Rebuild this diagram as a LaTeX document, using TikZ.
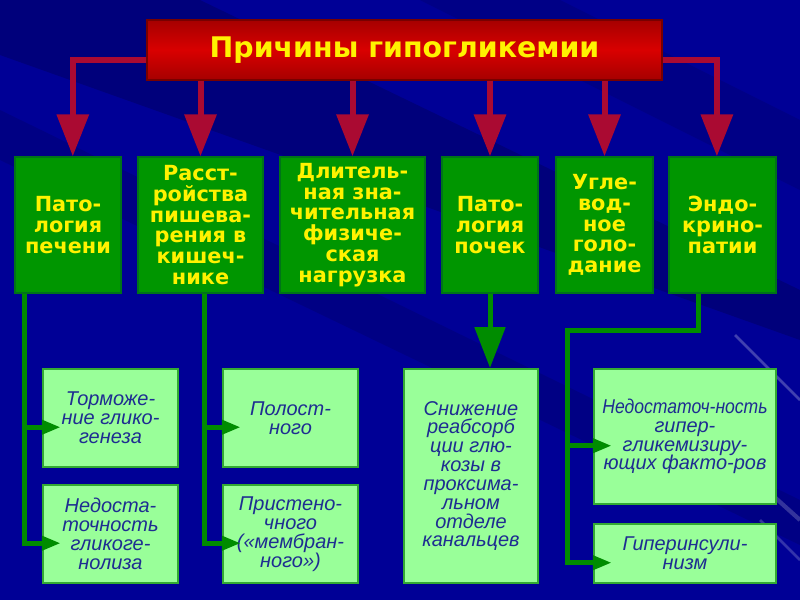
\documentclass[tikz,border=0pt]{standalone}
\usepackage{fontspec}
\usepackage{graphicx}
\setmainfont{Liberation Sans}
\newfontfamily\headface{DejaVu Sans}
\usetikzlibrary{arrows.meta}

\definecolor{bgblue}{RGB}{0,0,150}
\definecolor{bgdark}{RGB}{0,0,105}
\definecolor{crimson}{RGB}{170,10,50}
\definecolor{causegreen}{RGB}{0,150,0}
\definecolor{causeedge}{RGB}{0,115,25}
\definecolor{palegreen}{RGB}{153,255,153}
\definecolor{paleedge}{RGB}{51,170,51}
\definecolor{linkgreen}{RGB}{0,140,0}
\definecolor{inkblue}{RGB}{30,45,145}

\begin{document}
\begin{tikzpicture}[
            x=0.025cm, y=-0.025cm,
            title/.style={draw={rgb,255:red,120;green,0;blue,0}, line width=1pt,
                top color=red!65!black, bottom color=red!65!black, middle color=red!85!black,
                text=yellow, font=\headface\fontsize{20.2}{24}\selectfont\bfseries,
                minimum width=12.875cm, minimum height=1.5cm, inner sep=0pt},
            cause/.style={draw=causeedge, line width=1pt, fill=causegreen,
                text=yellow, align=center, inner sep=0pt,
                font=\headface\fontsize{14.8}{14.8}\selectfont\bfseries,
                minimum height=3.4cm},
            effect/.style={draw=paleedge, line width=1.5pt, fill=palegreen,
                text=inkblue, align=center, inner sep=0pt,
                font=\fontsize{14.2}{13.4}\selectfont\itshape},
            redlink/.style={draw=crimson, line width=0.15cm,
                -{Triangle[length=1.05cm, width=0.78cm]}},
            greenlink/.style={draw=linkgreen, line width=0.125cm,
                -{Triangle[length=0.47cm, width=0.34cm]}, shorten >=-0.47cm},
            greenbig/.style={draw=linkgreen, line width=0.125cm,
                -{Triangle[length=1.02cm, width=0.75cm]}},
        ]
        % background
        \useasboundingbox (0,0) rectangle (800,600);
        \fill[bgblue] (0,0) rectangle (800,600);
        \fill[bgdark, opacity=0.6] (0,0) -- (200,0) -- (800,290) -- (800,340) -- (0,55) -- cycle;
        \fill[bgdark, opacity=0.4] (0,110) -- (800,500) -- (800,545) -- (0,160) -- cycle;
        \fill[bgdark, opacity=0.35] (420,0) -- (560,0) -- (800,120) -- (800,190) -- cycle;
        \draw[white, opacity=0.25, line width=2pt] (735,335) -- (800,400);
        \draw[white, opacity=0.2, line width=3pt] (700,430) -- (800,520);
        \draw[white, opacity=0.2, line width=2pt] (760,520) -- (800,560);

        \node[title] (title) at (404.5, 50) {Причины гипогликемии};

        \node[cause, minimum width=2.65cm]  (pech)  at (68, 225)    {Пато-\\логия\\печени};
        \node[cause, minimum width=3.125cm] (kish)  at (200.5, 225) {Расст-\\ройства\\пишева-\\рения в\\кишеч-\\нике};
        \node[cause, minimum width=3.625cm] (nagr)  at (352.5, 225) {Длитель-\\ная зна-\\чительная\\физиче-\\ская\\нагрузка};
        \node[cause, minimum width=2.4cm]   (poch)  at (490, 225)   {Пато-\\логия\\почек};
        \node[cause, minimum width=2.425cm] (golod) at (604.5, 225) {Угле-\\вод-\\ное\\голо-\\дание};
        \node[cause, minimum width=2.675cm] (endo)  at (722.5, 225) {Эндо-\\крино-\\патии};

        \node[effect, minimum width=3.375cm, minimum height=2.45cm] (tormoz)   at (110.5, 418) {Торможе-\\ние глико-\\генеза};
        \node[effect, minimum width=3.375cm, minimum height=2.45cm] (glikogen) at (110.5, 534) {Недоста-\\точность\\гликоге-\\нолиза};
        \node[effect, minimum width=3.375cm, minimum height=2.45cm] (polost)   at (290.5, 418) {Полост-\\ного};
        \node[effect, minimum width=3.375cm, minimum height=2.45cm] (pristen)  at (290.5, 534) {Пристено-\\чного\\(«мембран-\\ного»)};
        \node[effect, minimum width=3.35cm, minimum height=5.35cm]  (snizh)    at (471, 476)   {Снижение\\реабсорб\\ции глю-\\козы в\\проксима-\\льном\\отделе\\канальцев};
        \node[effect, minimum width=4.55cm, minimum height=3.375cm] (nedost)   at (685, 436.5) {\scalebox{0.88}[1]{Недостаточ-ность}\\гипер-\\гликемизиру-\\ющих факто-ров};
        \node[effect, minimum width=4.55cm, minimum height=1.475cm] (giperins) at (685, 553.5) {Гиперинсули-\\низм};

        % red arrows from the title
        \draw[redlink] ([yshift=-0.25cm]title.west) -| ([xshift=0.12cm]pech.north);
        \draw[redlink] (title.south -| kish.north) -- (kish.north);
        \draw[redlink] (title.south -| nagr.north) -- (nagr.north);
        \draw[redlink] (title.south -| poch.north) -- (poch.north);
        \draw[redlink] (title.south -| golod.north) -- (golod.north);
        \draw[redlink] ([yshift=-0.25cm]title.east) -| ([xshift=-0.14cm]endo.north);

        % green arrows
        \coordinate (endoturn) at (567, 330);
        \draw[greenlink] ([xshift=0.25cm]pech.south west) |- ([yshift=-0.23cm]tormoz.west);
        \draw[greenlink] ([xshift=0.25cm]pech.south west) |- ([yshift=-0.23cm]glikogen.west);
        \draw[greenlink] ([xshift=0.11cm]kish.south) |- ([yshift=-0.23cm]polost.west);
        \draw[greenlink] ([xshift=0.11cm]kish.south) |- ([yshift=-0.23cm]pristen.west);
        \draw[greenbig] (poch.south) -- (poch.south |- snizh.north);
        \draw[greenlink] ([xshift=-0.6cm]endo.south) |- (endoturn) |- ([yshift=-0.23cm]giperins.west);
        \draw[greenlink] (endoturn) |- ([yshift=-0.23cm]nedost.west);
    \end{tikzpicture}
\end{document}
